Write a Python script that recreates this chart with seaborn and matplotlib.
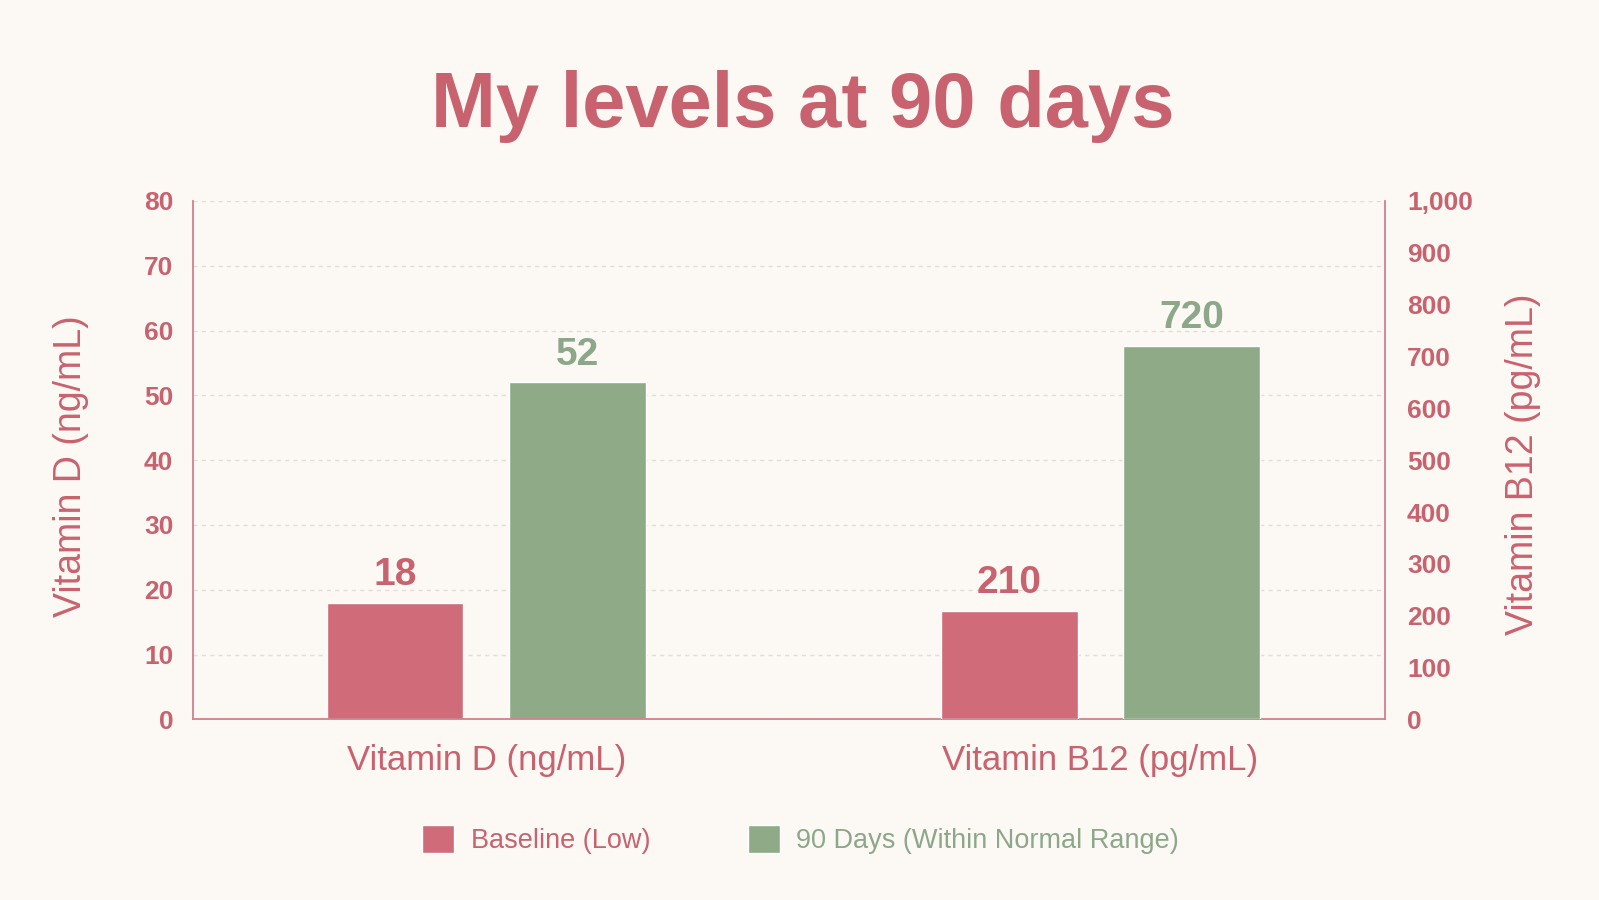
import matplotlib
matplotlib.use("Agg")
import matplotlib.pyplot as plt
import matplotlib.ticker as mticker
from matplotlib.patches import Patch
import pandas as pd
import seaborn as sns

# chart data
categories = ["Vitamin D (ng/mL)", "Vitamin B12 (pg/mL)"]
phases = ["Baseline (Low)", "90 Days (Within Normal Range)"]
vitamin_d = [18, 52]
vitamin_b12 = [210, 720]

# colours
PINK = "#D06C79"
GREEN = "#8FAA86"
TEXT_PINK = "#C9626F"
TEXT_GREEN = "#8CA789"
SPINE = "#D27F8B"
GRID = "#E2DDD7"
BG = "#FCF9F4"

sns.set_style("white")
plt.rcParams["font.family"] = ["Liberation Sans", "DejaVu Sans"]

d_df = pd.DataFrame({"vitamin": categories[0], "phase": phases, "value": vitamin_d})
b_df = pd.DataFrame({"vitamin": categories[1], "phase": phases, "value": vitamin_b12})
palette = dict(zip(phases, [PINK, GREEN]))

fig = plt.figure(figsize=(15.99, 9), dpi=100, facecolor=BG)
ax = fig.add_axes([0.1205, 0.2007, 0.7455, 0.5760])
ax.set_facecolor(BG)
ax2 = ax.twinx()

# left axis: vitamin D, right axis: vitamin B12
bar_kw = dict(x="vitamin", y="value", hue="phase", order=categories,
              hue_order=phases, palette=palette, width=0.594, gap=0.25,
              saturation=1, legend=False)
sns.barplot(data=d_df, ax=ax, **bar_kw)
sns.barplot(data=b_df, ax=ax2, **bar_kw)

# value labels above bars
for axis in (ax, ax2):
    for cont, col in zip(axis.containers, [TEXT_PINK, TEXT_GREEN]):
        axis.bar_label(cont, fmt="%d", padding=7, fontsize=28,
                       fontweight="bold", color=col)

ax.set_ylim(0, 80)
ax.set_yticks(range(0, 81, 10))
ax2.set_ylim(0, 1000)
ax2.set_yticks(range(0, 1001, 100))
ax2.yaxis.set_major_formatter(mticker.StrMethodFormatter("{x:,.0f}"))
ax.set_xlim(-0.478, 1.463)

# grid
ax.set_axisbelow(True)
ax.yaxis.grid(True, linestyle=(0, (3, 3)), color=GRID, linewidth=1)
ax.xaxis.grid(False)
ax2.grid(False)

# ticks
ax.tick_params(axis="y", length=0, pad=14, labelsize=19, labelcolor=TEXT_PINK)
ax2.tick_params(axis="y", length=0, pad=16, labelsize=19, labelcolor=TEXT_PINK)
ax.tick_params(axis="x", length=0, pad=18, labelsize=25, labelcolor=TEXT_PINK)
for lbl in ax.get_yticklabels() + ax2.get_yticklabels():
    lbl.set_fontweight("bold")

# spines
ax.spines["top"].set_visible(False)
ax.spines["right"].set_visible(False)
for s in ("left", "bottom"):
    ax.spines[s].set_color(SPINE)
    ax.spines[s].set_linewidth(1.3)
for s in ("top", "left", "bottom"):
    ax2.spines[s].set_visible(False)
ax2.spines["right"].set_color(SPINE)
ax2.spines["right"].set_linewidth(1.3)

# axis labels
ax.set_xlabel("")
ax.set_ylabel("Vitamin D (ng/mL)", fontsize=27, color=TEXT_PINK)
ax.yaxis.set_label_coords(-0.0873, 0.488)
ax2.set_ylabel("Vitamin B12 (pg/mL)", fontsize=27, color=TEXT_PINK)
ax2.yaxis.set_label_coords(1.101, 0.492)

# title
fig.text(0.502, 0.859, "My levels at 90 days", ha="center", va="baseline",
         fontsize=56, fontweight="bold", color=TEXT_PINK)

# legend
handles = [Patch(facecolor=PINK), Patch(facecolor=GREEN)]
fig.legend(handles, phases, loc="center", bbox_to_anchor=(0.5006, 0.067),
           ncol=2, frameon=False, fontsize=19.5, handlelength=1.2,
           handleheight=1.2, handletextpad=0.6, columnspacing=3.6,
           labelcolor=[TEXT_PINK, TEXT_GREEN])

fig.savefig("out.png", dpi=100, facecolor=BG)
